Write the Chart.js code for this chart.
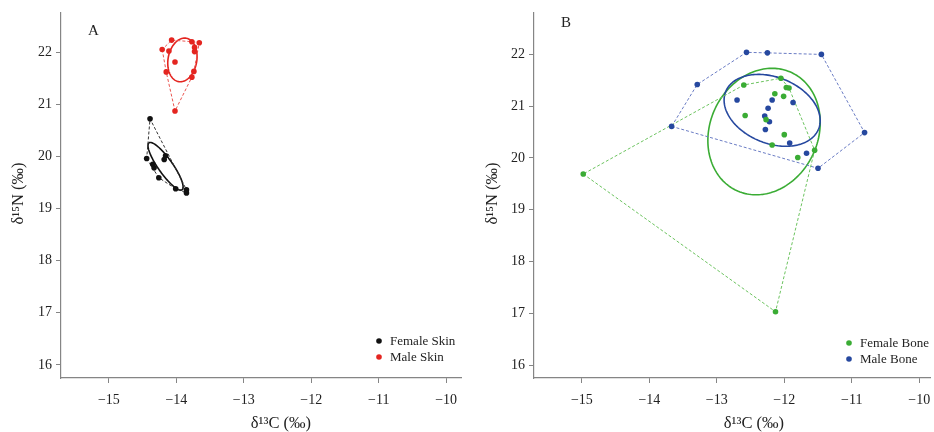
<!DOCTYPE html>
<html>
<head>
<meta charset="utf-8">
<script src="https://cdn.jsdelivr.net/npm/chart.js@4.4.0/dist/chart.umd.min.js"></script>
<style>
  html, body { margin: 0; padding: 0; background: #fff; }
  .wrap { display: flex; width: 934px; height: 432px; }
  canvas { display: block; }
</style>
</head>
<body>
<div class="wrap">
  <canvas id="skinChart" width="467" height="432"></canvas>
  <canvas id="boneChart" width="467" height="432"></canvas>
</div>
<script>
// tick labels shared by both panels
const ticksC = [-15, -14, -13, -12, -11, -10];
const ticksN = [16, 17, 18, 19, 20, 21, 22];

// skin samples (d13C, d15N)
const femaleSkinC = [-14.39, -14.44, -14.35, -14.33, -14.26, -14.18, -14.16, -14.01, -13.85, -13.85];
const femaleSkinN = [20.72, 19.96, 19.85, 19.78, 19.59, 19.94, 20.01, 19.38, 19.36, 19.30];
const maleSkinC = [-14.21, -14.11, -14.07, -13.77, -13.66, -13.73, -13.73, -14.02, -14.15, -13.74, -13.77, -14.02];
const maleSkinN = [22.05, 22.02, 22.23, 22.20, 22.18, 22.09, 22.01, 21.81, 21.62, 21.63, 21.52, 20.87];

// bone samples
const femaleBoneC = [-12.60, -12.05, -11.93, -11.97, -12.14, -12.01, -12.58, -12.27, -12.00, -12.18, -11.80, -11.55, -14.98, -12.13];
const femaleBoneN = [21.41, 21.54, 21.35, 21.36, 21.24, 21.19, 20.82, 20.74, 20.45, 20.25, 20.01, 20.15, 19.69, 17.03];
const maleBoneC = [-12.56, -12.25, -11.45, -13.29, -13.67, -10.81, -11.50, -12.70, -12.18, -11.87, -12.24, -12.29, -12.22, -12.28, -11.92, -11.67];
const maleBoneN = [22.04, 22.03, 22.00, 21.42, 20.61, 20.49, 19.80, 21.12, 21.12, 21.07, 20.96, 20.81, 20.70, 20.55, 20.29, 20.09];

// standard ellipses: centre C, centre N, then two semi-axis vectors (C, N)
const femaleSkinEllipse = [-14.16, 19.81, 0.245, -0.450, -0.088, -0.080];
const maleSkinEllipse = [-13.91, 21.85, 0.056, 0.416, 0.210, -0.046];
const femaleBoneEllipse = [-12.30, 20.51, 0.408, 1.139, 0.726, -0.441];
const maleBoneEllipse = [-12.18, 20.92, 0.688, -0.362, -0.184, -0.592];

const serif = "'Liberation Serif', 'Times New Roman', serif";
const axisColor = "#858585";
const textColor = "#222222";

const minus = (v) => (v < 0 ? "\u2212" + Math.abs(v) : String(v));

// monotone chain convex hull, closed back to the first vertex
function convexHull(xs, ys) {
  const pts = xs.map((x, i) => ({ x, y: ys[i] })).sort((a, b) => a.x - b.x || a.y - b.y);
  const cross = (o, a, b) => (a.x - o.x) * (b.y - o.y) - (a.y - o.y) * (b.x - o.x);
  const lower = [];
  const upper = [];
  for (const p of pts) {
    while (lower.length >= 2 && cross(lower[lower.length - 2], lower[lower.length - 1], p) <= 0) lower.pop();
    lower.push(p);
  }
  for (const p of pts.slice().reverse()) {
    while (upper.length >= 2 && cross(upper[upper.length - 2], upper[upper.length - 1], p) <= 0) upper.pop();
    upper.push(p);
  }
  const hull = lower.slice(0, -1).concat(upper.slice(0, -1));
  hull.push(hull[0]);
  return hull;
}

function makePanel(id, p) {
  const datasets = [];
  p.groups.forEach((g) => {
    datasets.push({
      label: g.label,
      data: g.xs.map((x, i) => ({ x, y: g.ys[i] })),
      backgroundColor: g.color,
      borderColor: g.color,
      borderWidth: 0,
      pointRadius: 2.8,
      pointHoverRadius: 2.8,
    });
  });
  p.groups.forEach((g) => {
    datasets.push({
      label: g.label + " hull",
      data: convexHull(g.xs, g.ys),
      showLine: true,
      borderColor: g.hullColor,
      borderWidth: 1,
      borderDash: [3, 2],
      pointRadius: 0,
      fill: false,
    });
  });

  const decor = {
    id: "decor",
    beforeDatasetsDraw(chart) {
      const { ctx, scales: { x, y } } = chart;
      p.groups.forEach((g) => {
        const e = g.ellipse;
        const cx = x.getPixelForValue(e[0]);
        const cy = y.getPixelForValue(e[1]);
        const ux = x.getPixelForValue(e[0] + e[2]) - cx;
        const uy = y.getPixelForValue(e[1] + e[3]) - cy;
        const vx = x.getPixelForValue(e[0] + e[4]) - cx;
        const vy = y.getPixelForValue(e[1] + e[5]) - cy;
        ctx.save();
        ctx.strokeStyle = g.color;
        ctx.lineWidth = 1.6;
        ctx.beginPath();
        for (let k = 0; k <= 180; k++) {
          const t = (k / 180) * Math.PI * 2;
          const px = cx + ux * Math.cos(t) + vx * Math.sin(t);
          const py = cy + uy * Math.cos(t) + vy * Math.sin(t);
          if (k === 0) ctx.moveTo(px, py);
          else ctx.lineTo(px, py);
        }
        ctx.stroke();
        ctx.restore();
      });
    },
    afterDraw(chart) {
      const { ctx, chartArea: a, scales: { x } } = chart;
      ctx.save();
      ctx.fillStyle = textColor;
      ctx.textBaseline = "middle";

      // panel letter
      ctx.font = "15px " + serif;
      ctx.textAlign = "left";
      ctx.fillText(p.letter, p.letterPos[0], p.letterPos[1]);

      // axis titles
      ctx.font = "16.5px " + serif;
      ctx.textAlign = "center";
      ctx.fillText("δ¹³C (‰)", x.getPixelForValue(-12.45), 424);
      ctx.save();
      ctx.translate(p.yTitleX, (a.top + a.bottom) / 2 - 2);
      ctx.rotate(-Math.PI / 2);
      ctx.fillText("δ¹⁵N (‰)", 0, 0);
      ctx.restore();

      // legend, bottom right of the plot
      ctx.font = "13px " + serif;
      ctx.textAlign = "left";
      p.groups.forEach((g, i) => {
        const ly = a.bottom - p.legend[1] + i * 16;
        const lx = a.right - p.legend[0];
        ctx.fillStyle = g.color;
        ctx.beginPath();
        ctx.arc(lx, ly, 2.8, 0, Math.PI * 2);
        ctx.fill();
        ctx.fillStyle = textColor;
        ctx.fillText(g.label, lx + 11, ly + 1);
      });
      ctx.restore();
    },
  };

  const axisCommon = {
    type: "linear",
    grid: { drawOnChartArea: false, color: axisColor, tickLength: 5 },
    border: { color: axisColor, width: 1.2 },
  };

  return new Chart(document.getElementById(id), {
    type: "scatter",
    data: { datasets },
    plugins: [decor],
    options: {
      responsive: false,
      animation: false,
      layout: { padding: { top: 13, right: p.padRight, left: 0, bottom: 0 } },
      plugins: { legend: { display: false }, tooltip: { enabled: false } },
      scales: {
        x: {
          ...axisCommon,
          min: -15.71,
          max: p.maxC,
          afterBuildTicks: (s) => { s.ticks = ticksC.map((v) => ({ value: v })); },
          afterFit: (s) => { s.height = 54; s.paddingRight = 0; },
          ticks: { color: textColor, font: { family: serif, size: 14 }, padding: 9, callback: (v) => minus(v) },
        },
        y: {
          ...axisCommon,
          min: 15.75,
          max: p.maxN,
          afterBuildTicks: (s) => { s.ticks = ticksN.map((v) => ({ value: v })); },
          afterFit: (s) => { s.width = p.yWidth; },
          ticks: { color: textColor, font: { family: serif, size: 14 }, padding: 4, callback: (v) => String(v) },
        },
      },
    },
  });
}

makePanel("skinChart", {
  letter: "A",
  letterPos: [88, 31],
  yTitleX: 19,
  yWidth: 61,
  padRight: 6,
  maxC: -9.78,
  maxN: 22.75,
  legend: [82, 37],
  groups: [
    { label: "Female Skin", xs: femaleSkinC, ys: femaleSkinN, color: "#111111", hullColor: "#333333", ellipse: femaleSkinEllipse },
    { label: "Male Skin", xs: maleSkinC, ys: maleSkinN, color: "#e42520", hullColor: "#ea5550", ellipse: maleSkinEllipse },
  ],
});

makePanel("boneChart", {
  letter: "B",
  letterPos: [94, 23],
  yTitleX: 26,
  yWidth: 67,
  padRight: 4,
  maxC: -9.84,
  maxN: 22.8,
  legend: [81, 35],
  groups: [
    { label: "Female Bone", xs: femaleBoneC, ys: femaleBoneN, color: "#3aac34", hullColor: "#6cc35f", ellipse: femaleBoneEllipse },
    { label: "Male Bone", xs: maleBoneC, ys: maleBoneN, color: "#26489f", hullColor: "#6a7cc4", ellipse: maleBoneEllipse },
  ],
});
</script>
</body>
</html>
